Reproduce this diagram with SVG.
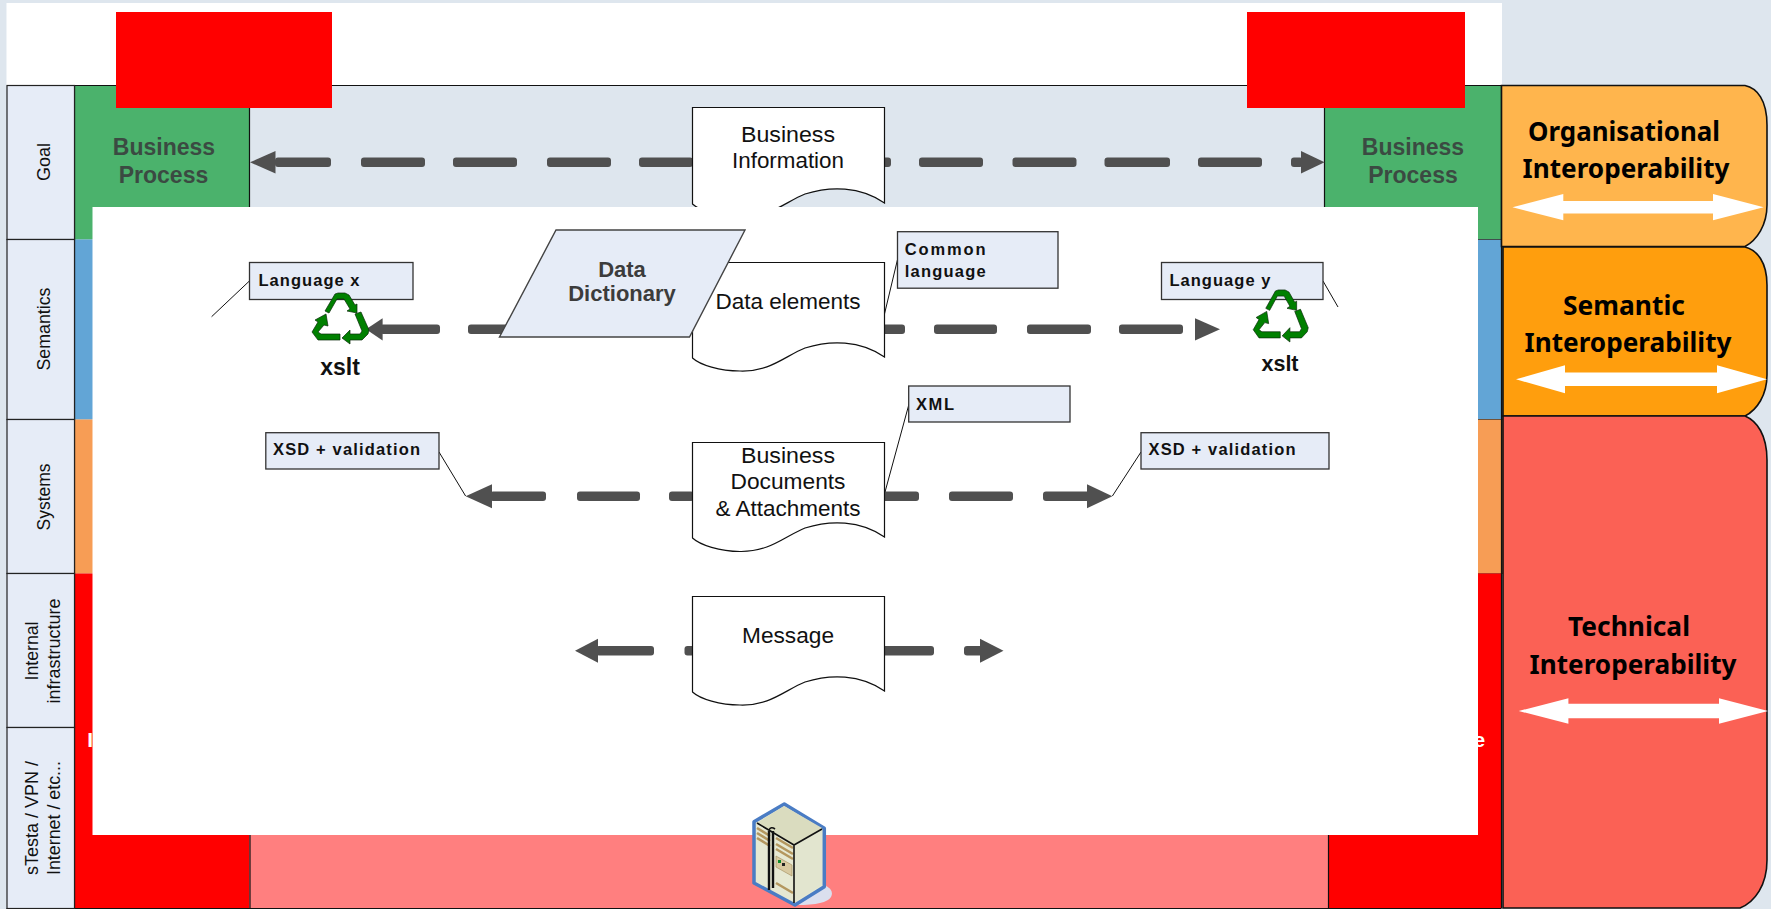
<svg xmlns="http://www.w3.org/2000/svg" width="1771" height="909" viewBox="0 0 1771 909">
<style>
text{font-family:"Liberation Sans",Arial,sans-serif}
.row{fill:#e6ecf7;stroke:#222;stroke-width:1.2}
.rl{font-size:18.5px;fill:#111;text-anchor:middle}
.doc{fill:#fff;stroke:#111;stroke-width:1.2}
.dt{font-size:22px;fill:#111;text-anchor:middle}
.bp{font-size:23px;font-weight:700;fill:#3b4a42;text-anchor:middle}
.box{fill:#e6ecf7;stroke:#333;stroke-width:1.3}
.bt{font-size:16.5px;font-weight:700;fill:#111}
.xs{font-size:23px;font-weight:700;fill:#111;text-anchor:middle}
.pt{font-family:"Noto Sans",sans-serif;font-size:27px;font-weight:700;fill:#000;text-anchor:middle}
.panel{stroke:#111;stroke-width:1.6}
.dash{fill:#505050}
.head{fill:#505050}
.lead{fill:none;stroke:#111;stroke-width:1}
.wa{fill:#fff}
.leaf{fill:#008000;stroke:#0a2a0a;stroke-width:.7}
.ov{font-size:21px;font-weight:700;fill:#fff}
</style>
<defs>
<g id="recycle">
<polygon class="leaf" points="35,41 45,24 48,23 55,23 59,25 65,35 67,34 67,43 57,41 60,39 54,29 47,29 39,43"/>
<polygon class="leaf" points="65,44 71,42 79,60 78,64 72,70 60,70 60,74 52,68 60,60 60,64 70,64 72,61"/>
<polygon class="leaf" points="50,64 50,70 28,70 22,62 28,52 25,50 36,44 38,56 34,55 28,62 31,64"/>
</g>
</defs>

<rect id="background" width="1771" height="909" fill="#dee6ee"/>
<rect id="top-white" x="6.5" y="3" width="1495.5" height="83" fill="#fff"/>

<g id="band-colours">
<rect x="74.5" y="85.5" width="175" height="154" fill="#4bb26c"/>
<rect x="249.5" y="85.5" width="1075" height="154" fill="#dee6ee"/>
<rect x="1324.5" y="85.5" width="177" height="154" fill="#4bb26c"/>
<rect x="74.5" y="239.5" width="30" height="180" fill="#62a5d6"/>
<rect x="1470" y="239.5" width="33" height="180" fill="#62a5d6" stroke="#333" stroke-width=".8"/>
<rect x="74.5" y="419.5" width="30" height="154" fill="#f79d55"/>
<rect x="1470" y="419.5" width="33" height="154" fill="#f79d55" stroke="#6a4a30" stroke-width=".8"/>
<rect x="74.5" y="573.5" width="175" height="335" fill="#f00"/>
<rect x="1328.5" y="573.5" width="173" height="335" fill="#f00"/>
<rect x="250" y="800" width="1078.5" height="108" fill="#ff7f7f"/>
<path d="M7 85.5H1501.5M1324.5 85.5V207M249.5 85.5V207M74.5 85.5V908M250 800V908M1328.5 800V908M1501.5 85.5V908M6.5 908.5H1501.5" fill="none" stroke="#111" stroke-width="1.2"/>
<text class="ov" x="87.3" y="747">I</text>
<text class="ov" x="1473.5" y="747">e</text>
</g>

<g id="row-goal"><rect class="row" x="7" y="85.5" width="67.5" height="154"/><text class="rl" transform="translate(49.5,162) rotate(-90)" textLength="38" lengthAdjust="spacingAndGlyphs">Goal</text></g>
<g id="row-semantics"><rect class="row" x="7" y="239.5" width="67.5" height="180"/><text class="rl" transform="translate(49.5,329) rotate(-90)" textLength="83" lengthAdjust="spacingAndGlyphs">Semantics</text></g>
<g id="row-systems"><rect class="row" x="7" y="419.5" width="67.5" height="154"/><text class="rl" transform="translate(49.5,497) rotate(-90)" textLength="67" lengthAdjust="spacingAndGlyphs">Systems</text></g>
<g id="row-internal"><rect class="row" x="7" y="573.5" width="67.5" height="154"/><text class="rl" transform="translate(38,651) rotate(-90)" textLength="59" lengthAdjust="spacingAndGlyphs">Internal</text><text class="rl" transform="translate(60,651) rotate(-90)" textLength="105" lengthAdjust="spacingAndGlyphs">infrastructure</text></g>
<g id="row-network"><rect class="row" x="7" y="727.5" width="67.5" height="181"/><text class="rl" transform="translate(38,818) rotate(-90)" textLength="114" lengthAdjust="spacingAndGlyphs">sTesta / VPN /</text><text class="rl" transform="translate(60,818) rotate(-90)" textLength="114" lengthAdjust="spacingAndGlyphs">Internet / etc...</text></g>

<g id="process-left"><text class="bp" x="164" y="155">Business</text><text class="bp" x="163.5" y="183">Process</text></g>
<g id="process-right"><text class="bp" x="1413" y="155">Business</text><text class="bp" x="1413" y="183">Process</text></g>

<g id="connectors-goal" transform="translate(0,162.3)">
<rect class="dash" x="275" y="-4.75" width="56" height="9.5" rx="3"/><rect class="dash" x="361" y="-4.75" width="64" height="9.5" rx="3"/><rect class="dash" x="453" y="-4.75" width="64" height="9.5" rx="3"/><rect class="dash" x="547" y="-4.75" width="64" height="9.5" rx="3"/><rect class="dash" x="639" y="-4.75" width="54" height="9.5" rx="3"/><rect class="dash" x="880" y="-4.75" width="11" height="9.5" rx="3"/><rect class="dash" x="919" y="-4.75" width="64" height="9.5" rx="3"/><rect class="dash" x="1012.5" y="-4.75" width="64" height="9.5" rx="3"/><rect class="dash" x="1104.5" y="-4.75" width="65.5" height="9.5" rx="3"/><rect class="dash" x="1198" y="-4.75" width="64" height="9.5" rx="3"/><rect class="dash" x="1291" y="-4.75" width="12" height="9.5" rx="3"/>
<polygon class="head" points="250,0 275.5,-11.3 275.5,11.3"/>
<polygon class="head" points="1324.6,0 1301,-11.3 1301,11.3"/>
</g>

<g id="doc-business-information">
<path class="doc" d="M692.5 107.5H884.5V203C860 186 830 186 805 194C785 202 770 218 740 217C720 217 700 211 692.5 204Z"/>
<text class="dt" x="788" y="141.7" textLength="94" lengthAdjust="spacingAndGlyphs">Business</text><text class="dt" x="788" y="168" textLength="112" lengthAdjust="spacingAndGlyphs">Information</text>
</g>

<rect id="overlay" x="92.5" y="207" width="1385.5" height="628" fill="#fff"/>

<g id="panel-organisational">
<path class="panel" fill="#ffb54d" d="M1501.5 85.5H1745C1757 88 1767 100 1767 125V205C1767 225 1757 240 1745 246.5H1501.5Z"/>
<text class="pt" x="1624" y="141" textLength="192" lengthAdjust="spacingAndGlyphs">Organisational</text>
<text class="pt" x="1626" y="178" textLength="207" lengthAdjust="spacingAndGlyphs">Interoperability</text>
<polygon class="wa" points="1512.5,207.3 1563.3,194 1563.3,200.9 1713,200.9 1713,194 1763.7,207.3 1713,220.3 1713,213.6 1563.3,213.6 1563.3,220.3"/>
</g>
<g id="panel-semantic">
<path class="panel" fill="#ff9e0d" d="M1503 247H1745C1757 250 1767 262 1767 285V375C1767 395 1757 410 1745 416H1503Z"/>
<text class="pt" x="1624" y="315" textLength="122" lengthAdjust="spacingAndGlyphs">Semantic</text>
<text class="pt" x="1628" y="351.7" textLength="207" lengthAdjust="spacingAndGlyphs">Interoperability</text>
<polygon class="wa" points="1516,379.3 1565,365.3 1565,372.6 1717,372.6 1717,365.3 1767,379.3 1717,393.3 1717,386 1565,386 1565,393.3"/>
</g>
<g id="panel-technical">
<path class="panel" fill="#fb6155" d="M1503 416H1745C1757 421 1767 435 1767 460V860C1767 885 1755 902 1740 908H1503Z"/>
<text class="pt" x="1629" y="635.7" textLength="122" lengthAdjust="spacingAndGlyphs">Technical</text>
<text class="pt" x="1633" y="674" textLength="207" lengthAdjust="spacingAndGlyphs">Interoperability</text>
<polygon class="wa" points="1518.7,711 1568.4,698.2 1568.4,703.7 1719,703.7 1719,698.2 1768,711 1719,723.8 1719,718.3 1568.4,718.3 1568.4,723.8"/>
</g>

<g id="connectors">
<g transform="translate(0,329.3)">
<rect class="dash" x="380" y="-4.75" width="60" height="9.5" rx="3"/><rect class="dash" x="468" y="-4.75" width="50" height="9.5" rx="3"/><rect class="dash" x="880" y="-4.75" width="25" height="9.5" rx="3"/><rect class="dash" x="934" y="-4.75" width="63" height="9.5" rx="3"/><rect class="dash" x="1027" y="-4.75" width="64" height="9.5" rx="3"/><rect class="dash" x="1119" y="-4.75" width="64" height="9.5" rx="3"/>
<polygon class="head" points="366,0 382.6,-11.1 382.6,11.1"/>
<polygon class="head" points="1220,0 1195,-11.1 1195,11.1"/>
</g>
<g transform="translate(0,496.3)">
<rect class="dash" x="490" y="-4.75" width="56" height="9.5" rx="3"/><rect class="dash" x="577" y="-4.75" width="63" height="9.5" rx="3"/><rect class="dash" x="669" y="-4.75" width="25" height="9.5" rx="3"/><rect class="dash" x="880" y="-4.75" width="39" height="9.5" rx="3"/><rect class="dash" x="949" y="-4.75" width="64" height="9.5" rx="3"/><rect class="dash" x="1043" y="-4.75" width="47" height="9.5" rx="3"/>
<polygon class="head" points="465.6,0 492,-12 492,12"/>
<polygon class="head" points="1112.4,0 1087,-12 1087,12"/>
</g>
<g transform="translate(0,650.7)">
<rect class="dash" x="596" y="-4.75" width="58" height="9.5" rx="3"/><rect class="dash" x="684.5" y="-4.75" width="10" height="9.5" rx="3"/><rect class="dash" x="880" y="-4.75" width="54" height="9.5" rx="3"/><rect class="dash" x="964" y="-4.75" width="20" height="9.5" rx="3"/>
<polygon class="head" points="575,0 598,-12 598,12"/>
<polygon class="head" points="1003.5,0 980,-12 980,12"/>
</g>
<path class="lead" d="M249.4 281L211.6 316.7M1323 281L1338 307M897.4 260L884 316M909 404L885 492M439 452L465.6 496M1141 452L1112.4 496"/>
</g>

<g id="doc-data-elements">
<path class="doc" d="M692.5 262.5H884.5V357C860 340 830 340 805 348C785 356 770 372 740 371C720 371 700 365 692.5 358Z"/>
<text class="dt" x="788" y="309" textLength="145" lengthAdjust="spacingAndGlyphs">Data elements</text>
</g>
<g id="doc-business-documents">
<path class="doc" d="M692.5 442.5H884.5V537C860 520 830 520 805 528C785 536 770 552 740 551.5C720 551.5 700 545 692.5 538Z"/>
<text class="dt" x="788" y="463" textLength="94" lengthAdjust="spacingAndGlyphs">Business</text><text class="dt" x="788" y="489" textLength="115" lengthAdjust="spacingAndGlyphs">Documents</text><text class="dt" x="788" y="516" textLength="145" lengthAdjust="spacingAndGlyphs">&amp; Attachments</text>
</g>
<g id="doc-message">
<path class="doc" d="M692.5 596.5H884.5V691C860 674 830 674 805 682C785 690 770 706 740 705C720 705 700 699 692.5 692Z"/>
<text class="dt" x="788" y="642.7" textLength="92" lengthAdjust="spacingAndGlyphs">Message</text>
</g>
<g id="data-dictionary">
<polygon points="556,230 745,230 689.5,337 499.5,337" fill="#e6ecf7" stroke="#444" stroke-width="1.4"/>
<text x="622" y="276.7" text-anchor="middle" font-size="22" font-weight="700" fill="#3c3c3c">Data</text>
<text x="622" y="301" text-anchor="middle" font-size="22" font-weight="700" fill="#3c3c3c">Dictionary</text>
</g>
<g id="label-language-x"><rect class="box" x="249.5" y="262.5" width="163.5" height="37"/><text class="bt" x="258.5" y="285.7" textLength="101">Language x</text></g>
<g id="label-language-y"><rect class="box" x="1161.5" y="262.5" width="161.5" height="37"/><text class="bt" x="1169.4" y="285.7" textLength="101">Language y</text></g>
<g id="label-common"><rect class="box" x="897.5" y="231.7" width="160.5" height="56.5"/><text class="bt" x="904.7" y="255" textLength="81">Common</text><text class="bt" x="904.7" y="276.7" textLength="81">language</text></g>
<g id="label-xml"><rect class="box" x="908.7" y="386" width="161.3" height="36"/><text class="bt" x="916" y="410" textLength="38">XML</text></g>
<g id="label-xsd-left"><rect class="box" x="265.8" y="432.7" width="173.2" height="36.3"/><text class="bt" x="273" y="455" textLength="147">XSD + validation</text></g>
<g id="label-xsd-right"><rect class="box" x="1141" y="432.7" width="188" height="36.3"/><text class="bt" x="1148.5" y="455" textLength="147">XSD + validation</text></g>

<g id="xslt-left"><use href="#recycle" transform="translate(290,270)"/><text class="xs" x="340" y="375">xslt</text></g>
<g id="xslt-right"><use href="#recycle" transform="translate(1232,266.5) scale(.965,1.02)"/><text class="xs" x="1280" y="370.7" style="font-size:21.5px">xslt</text></g>

<g id="server">
<path d="M822 884Q835 889 831 897Q826 905 797 905Z" fill="#dbdfee"/>
<polygon points="784.3,804 824.3,828.3 824.3,886.7 795,905 754,883 754,821.7" fill="#e6e8d2" stroke="#4a7cc4" stroke-width="3.5" stroke-linejoin="round"/>
<polygon points="757,823 784,806 822,828 794,845" fill="#dadcbf"/>
<polygon points="794,845 822,828 822,885 794,902" fill="#e2e5cf"/>
<path d="M757 828L770 836M757 833L770 841M757 838L770 846M776 838L793 848M776 844L793 854M776 849L793 859M776 883L793 893" stroke="#b4975f" stroke-width="2.6" fill="none"/>
<polygon points="776,856 792,865 792,876 776,867" fill="#d8c9a0" stroke="#a08a5a" stroke-width=".6"/>
<rect x="778" y="860" width="3" height="3" fill="#0a8a2a"/><rect x="782" y="863" width="3" height="3" fill="#222"/>
<path d="M757 823L794 845L822 829M794 845V903" fill="none" stroke="#111" stroke-width="1.6"/>
<path d="M769 831V890M773 831V888" stroke="#111" stroke-width="2.4" fill="none"/>
<path d="M769 830Q771 826 775 829" stroke="#111" stroke-width="1.6" fill="#dadcbf"/>
</g>

<rect id="red-left" x="116" y="12" width="216" height="96" fill="#f00"/>
<rect id="red-right" x="1247" y="12" width="218" height="96" fill="#f00"/>
</svg>
